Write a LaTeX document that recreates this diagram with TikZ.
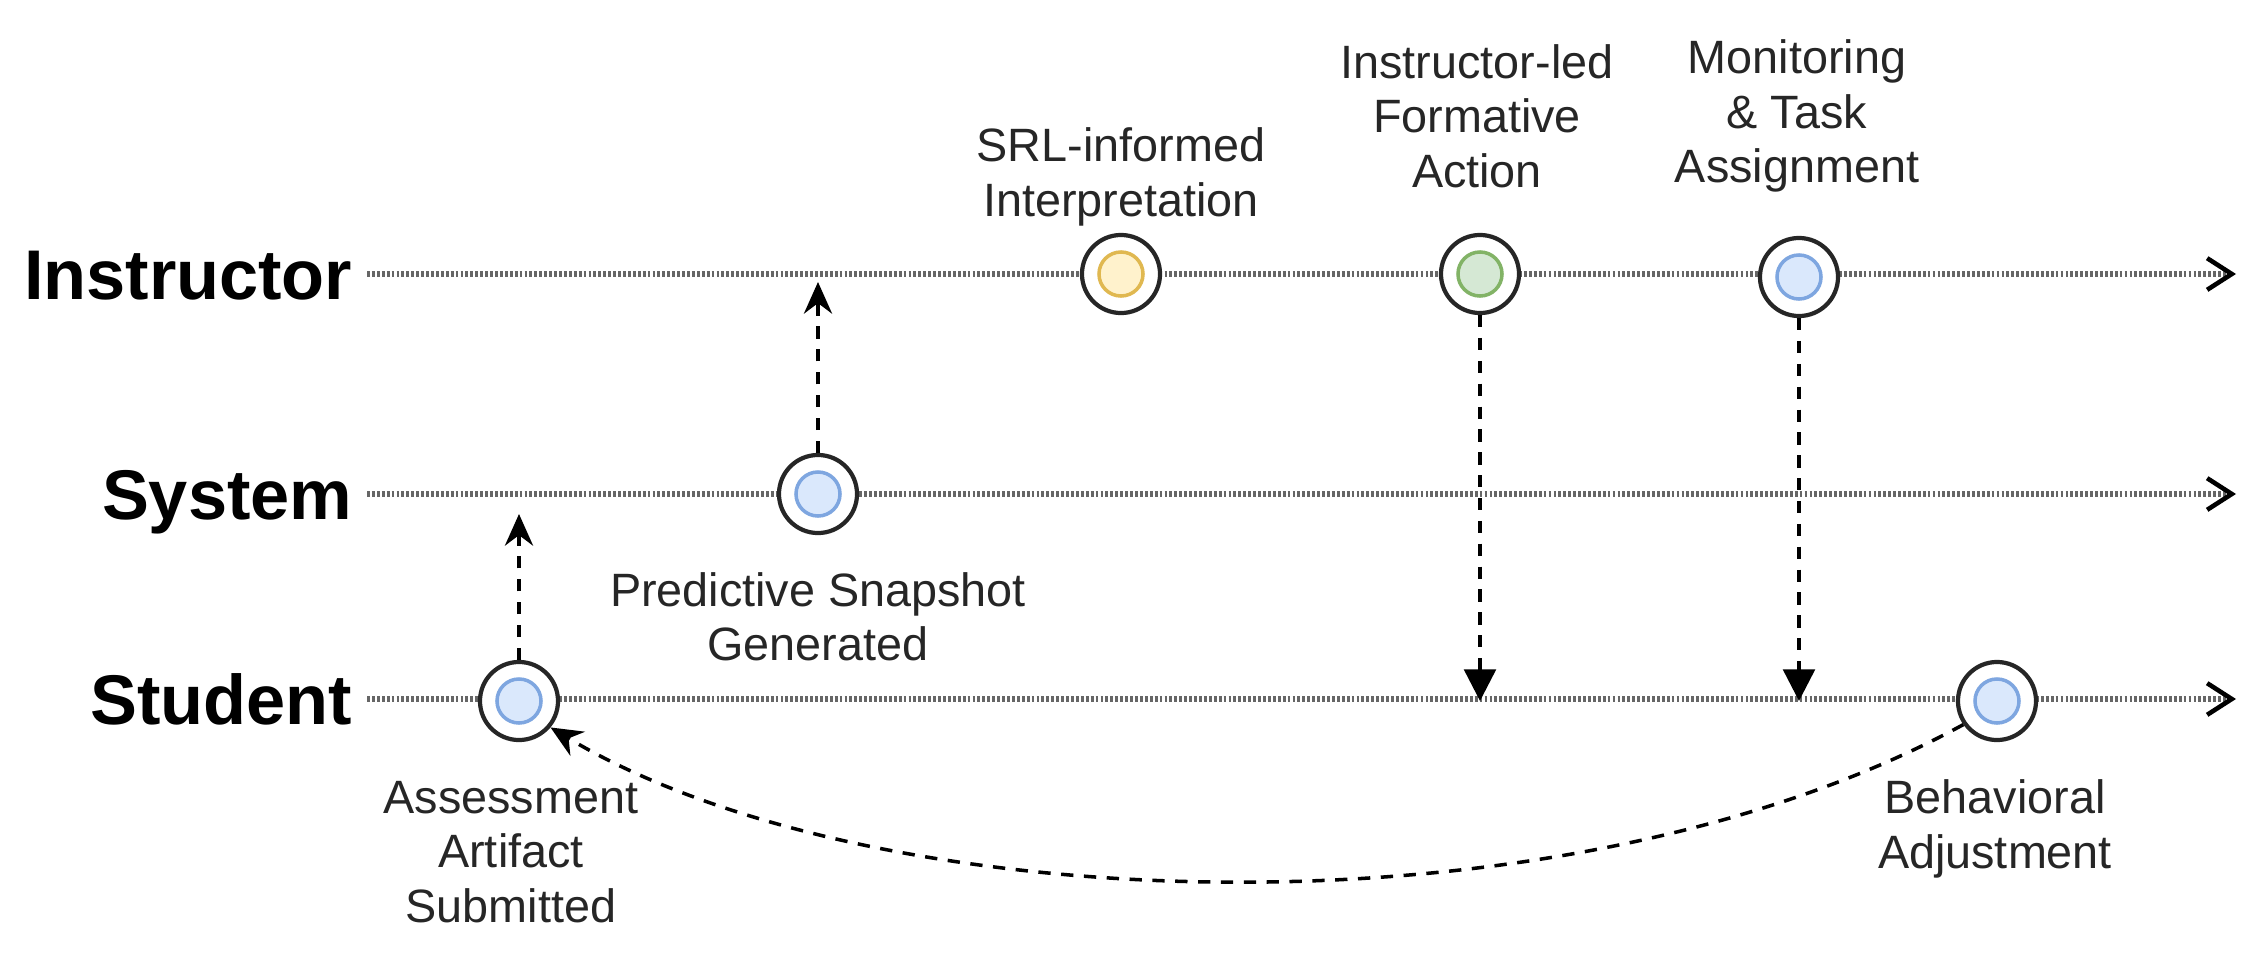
\documentclass[tikz,border=0pt]{standalone}
\usepackage{fontspec}
\setmainfont{Liberation Sans}
\usetikzlibrary{arrows.meta,positioning}

\definecolor{ringblue}{HTML}{7EA6E0}
\definecolor{fillblue}{HTML}{DAE8FC}
\definecolor{ringyellow}{HTML}{E0B850}
\definecolor{fillyellow}{HTML}{FFF2CC}
\definecolor{ringgreen}{HTML}{82B366}
\definecolor{fillgreen}{HTML}{D5E8D4}

\tikzset{
  lane/.style={black!60, line width=1.6pt, dash pattern=on 0.8pt off 0.6pt,
    -{Straight Barb[length=7pt,width=9pt,line width=1.3pt,color=black]}},
  lanelabel/.style={font=\fontsize{20}{24}\selectfont\bfseries, anchor=base east, inner sep=0pt},
  event/.style={circle, draw=black!85, line width=1.2pt, fill=white, minimum size=0.78cm, inner sep=0pt},
  core/.style 2 args={circle, draw=#1, fill=#2, line width=1pt, minimum size=0.44cm, inner sep=0pt},
  eventlabel/.style={font=\fontsize{13.3}{15.5}\selectfont, align=center, text=black!85, inner sep=0pt},
  flow/.style={black, line width=1pt, dash pattern=on 3.5pt off 3pt,
    -{Stealth[length=9pt,width=8pt,inset=3pt]}},
  flowdown/.style={flow, -{Triangle[length=9pt,width=9pt]}}
}

\begin{document}
\begin{tikzpicture}[x=0.01cm,y=-0.01cm]
\useasboundingbox (0,0) rectangle (2259,957);

% Lanes
\coordinate (ins-a) at (367,274);
\coordinate (ins-b) at (2236,274);
\coordinate (sys-a) at (367,494);
\coordinate (sys-b) at (2236,494);
\coordinate (stu-a) at (367,699);
\coordinate (stu-b) at (2236,699);
\draw[lane] (ins-a) -- (ins-b);
\draw[lane] (sys-a) -- (sys-b);
\draw[lane] (stu-a) -- (stu-b);

\node[lanelabel] (ins-lbl) at (353,299) {Instructor};
\node[lanelabel] (sys-lbl) at (353,519) {System};
\node[lanelabel] (stu-lbl) at (353,724) {Student};

% Events
\node[event] (art) at (519,701) {};
\node[core={ringblue}{fillblue}] (art-core) at (art) {};
\node[event] (snap) at (818,494) {};
\node[core={ringblue}{fillblue}] (snap-core) at (snap) {};
\node[event] (srl) at (1121,274) {};
\node[core={ringyellow}{fillyellow}] (srl-core) at (srl) {};
\node[event] (form) at (1480,274) {};
\node[core={ringgreen}{fillgreen}] (form-core) at (form) {};
\node[event] (task) at (1799,277) {};
\node[core={ringblue}{fillblue}] (task-core) at (task) {};
\node[event] (adj) at (1997,701) {};
\node[core={ringblue}{fillblue}] (adj-core) at (adj) {};

% Labels
\node[eventlabel] (srl-txt) at (1121,177) {SRL-informed\\Interpretation};
\node[eventlabel] (form-txt) at (1477,116) {Instructor-led\\Formative\\Action};
\node[eventlabel] (task-txt) at (1797,116) {Monitoring\\\& Task\\Assignment};
\node[eventlabel] (snap-txt) at (818,617) {Predictive Snapshot\\Generated};
\node[eventlabel] (art-txt) at (511,852) {Assessment\\Artifact\\Submitted};
\node[eventlabel] (adj-txt) at (1995,829) {Behavioral\\Adjustment};

% Flows
\coordinate (art-up) at (519,514);
\coordinate (snap-up) at (818,282);
\coordinate (form-down) at (1480,701);
\coordinate (task-down) at (1799,701);
\draw[flow] (art.north) -- (art-up);
\draw[flow] (snap.north) -- (snap-up);
\draw[flowdown] (form.south) -- (form-down);
\draw[flowdown] (task.south) -- (task-down);
\draw[flow] (adj.215) .. controls (1560,945) and (870,920) .. (art.-40);
\end{tikzpicture}
\end{document}
